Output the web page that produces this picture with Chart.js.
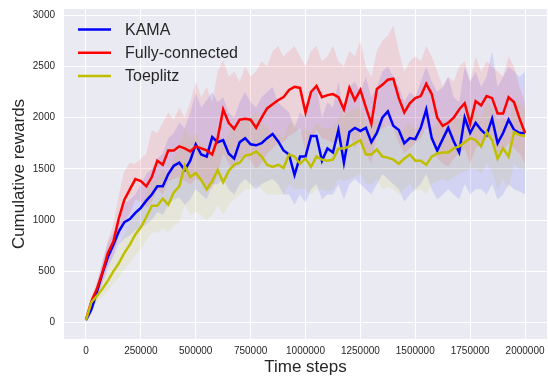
<!DOCTYPE html>
<html>
<head>
<meta charset="utf-8">
<script src="https://cdn.jsdelivr.net/npm/chart.js@4"></script>
<style>
  html, body { margin: 0; padding: 0; background: #fff; }
  #wrap { width: 548px; height: 376px; }
</style>
</head>
<body>
<div id="wrap"><canvas id="rewardChart" width="548" height="376"></canvas></div>
<script>
// time steps (x), one sample every 25000 steps
const steps = [0,25000,50000,75000,100000,125000,150000,175000,200000,225000,
  250000,275000,300000,325000,350000,375000,400000,425000,450000,475000,
  500000,525000,550000,575000,600000,625000,650000,675000,700000,725000,
  750000,775000,800000,825000,850000,875000,900000,925000,950000,975000,
  1000000,1025000,1050000,1075000,1100000,1125000,1150000,1175000,1200000,1225000,
  1250000,1275000,1300000,1325000,1350000,1375000,1400000,1425000,1450000,1475000,
  1500000,1525000,1550000,1575000,1600000,1625000,1650000,1675000,1700000,1725000,
  1750000,1775000,1800000,1825000,1850000,1875000,1900000,1925000,1950000,1975000,2000000];

const seriesNames = ['KAMA', 'Fully-connected', 'Toeplitz'];
const xTicks = [0,250000,500000,750000,1000000,1250000,1500000,1750000,2000000];
const yTicks = [0,500,1000,1500,2000,2500,3000];

// KAMA (blue)
const kamaMean = [23,130,300,480,640,760,890,980,1010,1070,1120,1190,1250,1330,1330,1450,1530,1560,1490,1580,
  1740,1640,1620,1810,1760,1780,1650,1600,1760,1800,1740,1730,1750,1800,1840,1770,1680,1640,1440,1620,
  1620,1820,1820,1580,1700,1660,1880,1560,1860,1900,1870,1900,1760,1850,2000,2060,1920,1880,1750,1800,
  1790,1900,2080,1800,1680,1790,1900,1770,1660,2000,1850,1950,1880,1830,1990,1750,1850,1980,1880,1850,1850];
const kamaUpper = [40,180,380,600,780,880,1020,1150,1200,1250,1350,1450,1500,1600,1650,1800,1850,1950,1900,2050,
  2240,2100,2170,2250,2150,2200,2050,2000,2150,2250,2150,2100,2200,2250,2300,2150,2100,2050,1900,2050,
  2000,2250,2300,2000,2150,2100,2350,2000,2300,2350,2250,2400,2200,2300,2450,2500,2400,2300,2150,2250,
  2200,2350,2500,2350,2250,2300,2400,2200,2150,2500,2350,2450,2300,2400,2650,2300,2400,2500,2450,2400,2450];
const kamaLower = [10,90,230,380,520,640,760,820,850,900,920,960,1000,1080,1050,1150,1200,1220,1150,1200,
  1300,1250,1200,1350,1350,1400,1300,1250,1350,1400,1350,1300,1350,1380,1400,1350,1250,1250,1150,1250,
  1170,1300,1350,1200,1250,1250,1350,1200,1350,1400,1350,1300,1250,1350,1450,1400,1350,1300,1180,1250,
  1300,1350,1450,1300,1200,1250,1300,1250,1200,1350,1250,1300,1300,1250,1350,1200,1250,1350,1300,1280,1250];

// Fully-connected (red)
const fullMean = [30,210,330,490,680,790,1020,1200,1300,1400,1380,1330,1420,1580,1540,1680,1680,1720,1700,1670,
  1720,1700,1680,1640,1800,2080,1950,1890,1980,1990,1980,1900,2000,2090,2130,2170,2200,2270,2300,2290,
  2050,2250,2310,2200,2220,2230,2200,2080,2290,2170,2270,2100,1940,2280,2320,2370,2380,2190,2050,2140,
  2190,2210,2330,2230,2000,1920,1950,2000,2080,2140,1940,2160,2120,2210,2190,2040,2040,2200,2150,1990,1850];
const fullUpper = [40,250,400,580,800,960,1250,1480,1560,1550,1600,1650,1880,1850,1950,2050,1980,2100,2000,2150,
  2350,2200,2300,2150,2450,2560,2400,2450,2350,2500,2400,2450,2550,2500,2650,2700,2600,2650,2700,2600,
  2500,2650,2700,2550,2600,2700,2550,2500,2650,2600,2750,2500,2400,2650,2750,2800,2900,2650,2450,2550,
  2600,2550,2700,2600,2450,2300,2400,2350,2500,2550,2350,2600,2450,2550,2500,2450,2400,2600,2500,2300,2150];
const fullLower = [20,170,270,400,560,660,850,980,1060,1200,1180,1120,1180,1300,1250,1380,1400,1420,1380,1350,
  1400,1380,1330,1300,1450,1650,1550,1500,1600,1620,1580,1500,1560,1650,1700,1750,1760,1820,1850,1900,
  1650,1800,1880,1800,1780,1750,1800,1650,1850,1700,1800,1650,1550,1850,1900,1920,1900,1750,1650,1700,
  1750,1800,1900,1800,1600,1550,1520,1600,1650,1700,1550,1700,1750,1800,1820,1650,1680,1750,1700,1650,1550];

// Toeplitz (yellow)
const toepMean = [23,200,260,330,410,500,580,680,760,860,930,1030,1140,1140,1210,1150,1270,1330,1530,1420,
  1460,1390,1300,1380,1490,1370,1480,1540,1560,1630,1640,1670,1620,1540,1520,1540,1510,1640,1620,1550,
  1600,1520,1620,1590,1580,1590,1700,1700,1720,1750,1780,1640,1640,1690,1620,1610,1590,1550,1600,1640,
  1580,1580,1540,1620,1650,1660,1660,1700,1720,1760,1800,1780,1720,1860,1780,1600,1700,1620,1860,1830,1820];
const toepUpper = [40,240,320,420,520,640,740,860,960,1060,1150,1260,1380,1400,1500,1450,1600,1700,1900,1800,
  1850,1750,1700,1800,1850,1750,1850,1900,1950,2000,2000,2050,1950,1900,1850,1850,1800,1950,1950,1850,
  1900,1850,1950,1900,1900,1900,2000,2050,2050,2100,2100,1950,1950,2000,1950,1900,1900,1850,1900,1950,
  1900,1900,1850,1900,1950,1950,1950,2000,2000,2050,2100,2050,2000,2150,2100,1950,2000,1950,2150,2150,2100];
const toepLower = [10,160,200,250,310,380,440,520,580,660,720,800,880,880,920,880,950,980,1150,1050,
  1080,1050,1000,1050,1150,1050,1150,1200,1250,1300,1300,1350,1300,1250,1250,1250,1250,1350,1300,1300,
  1300,1250,1300,1300,1280,1300,1400,1380,1400,1420,1450,1350,1350,1400,1300,1320,1300,1250,1300,1350,
  1280,1300,1250,1350,1380,1400,1380,1420,1450,1480,1500,1500,1450,1550,1480,1300,1400,1300,1550,1500,1500];

const LINE_COLORS = ['#0000ff', '#ff0000', '#bfbf00'];
const BAND_COLORS = ['rgba(0,0,255,0.1)', 'rgba(255,0,0,0.1)', 'rgba(191,191,0,0.1)'];
const FONT = '"Liberation Sans", Arial, sans-serif';
const TEXT_COLOR = '#262626';

function pts(values){
  return values.map((v, i) => ({x: steps[i], y: v}));
}

function lineSet(idx, values, order){
  return {
    label: seriesNames[idx],
    data: pts(values),
    borderColor: LINE_COLORS[idx],
    borderWidth: 2.5,
    pointRadius: 0,
    tension: 0,
    fill: false,
    order
  };
}

function bandSet(idx, values, fill, order){
  return {
    label: seriesNames[idx] + ' band',
    data: pts(values),
    borderWidth: 0,
    borderColor: 'rgba(0,0,0,0)',
    backgroundColor: BAND_COLORS[idx],
    pointRadius: 0,
    tension: 0,
    fill,
    order
  };
}

// datasets: 0-5 bands (upper fills to the lower right after it), 6-8 lines
const datasets = [
  bandSet(0, kamaUpper, '+1', 20), bandSet(0, kamaLower, false, 21),
  bandSet(1, fullUpper, '+1', 18), bandSet(1, fullLower, false, 19),
  bandSet(2, toepUpper, '+1', 16), bandSet(2, toepLower, false, 17),
  lineSet(0, kamaMean, 3),
  lineSet(1, fullMean, 2),
  lineSet(2, toepMean, 1)
];

const plotBackground = {
  id: 'plotBackground',
  beforeDraw(chart){
    const {ctx, chartArea: a} = chart;
    ctx.save();
    ctx.fillStyle = '#eaeaf2';
    ctx.fillRect(a.left, a.top, a.right - a.left, a.bottom - a.top);
    ctx.restore();
  }
};

const innerLegend = {
  id: 'innerLegend',
  afterDraw(chart){
    const {ctx, chartArea: a} = chart;
    ctx.save();
    ctx.font = '16px ' + FONT;
    ctx.textBaseline = 'middle';
    ctx.textAlign = 'left';
    seriesNames.forEach((name, i) => {
      const y = a.top + 20.5 + i * 23.2;
      ctx.strokeStyle = LINE_COLORS[i];
      ctx.lineWidth = 2.5;
      ctx.beginPath();
      ctx.moveTo(a.left + 14, y);
      ctx.lineTo(a.left + 47, y);
      ctx.stroke();
      ctx.fillStyle = TEXT_COLOR;
      ctx.fillText(name, a.left + 61, y + 1);
    });
    ctx.restore();
  }
};

const ctx = document.getElementById('rewardChart').getContext('2d');
new Chart(ctx, {
  type: 'line',
  data: { datasets },
  plugins: [plotBackground, innerLegend],
  options: {
    responsive: false,
    animation: false,
    layout: { padding: { top: 9, right: 1, left: 0, bottom: 0 } },
    plugins: { legend: { display: false }, tooltip: { enabled: false } },
    scales: {
      x: {
        type: 'linear',
        min: -100000,
        max: 2100000,
        afterBuildTicks: s => { s.ticks = xTicks.map(v => ({value: v})); },
        afterFit: s => { s.height = 37; s.paddingLeft = 0; s.paddingRight = 0; },
        grid: { color: '#ffffff', lineWidth: 1, drawTicks: false },
        border: { display: false },
        ticks: { padding: 6, color: TEXT_COLOR, font: { family: FONT, size: 10 }, maxRotation: 0, callback: v => String(v) },
        title: { display: true, text: 'Time steps', color: TEXT_COLOR, font: { family: FONT, size: 17, lineHeight: 1 }, padding: { top: 0, bottom: 0 } }
      },
      y: {
        type: 'linear',
        min: -160,
        max: 3060,
        afterBuildTicks: s => { s.ticks = yTicks.map(v => ({value: v})); },
        afterFit: s => { s.width = 64; s.paddingTop = 0; s.paddingBottom = 0; },
        grid: { color: '#ffffff', lineWidth: 1, drawTicks: false },
        border: { display: false },
        ticks: { padding: 9, color: TEXT_COLOR, font: { family: FONT, size: 10 }, callback: v => String(v) },
        title: { display: true, text: 'Cumulative rewards', color: TEXT_COLOR, font: { family: FONT, size: 17, lineHeight: 1 }, padding: { top: 11, bottom: 0 } }
      }
    }
  }
});
</script>
</body>
</html>
